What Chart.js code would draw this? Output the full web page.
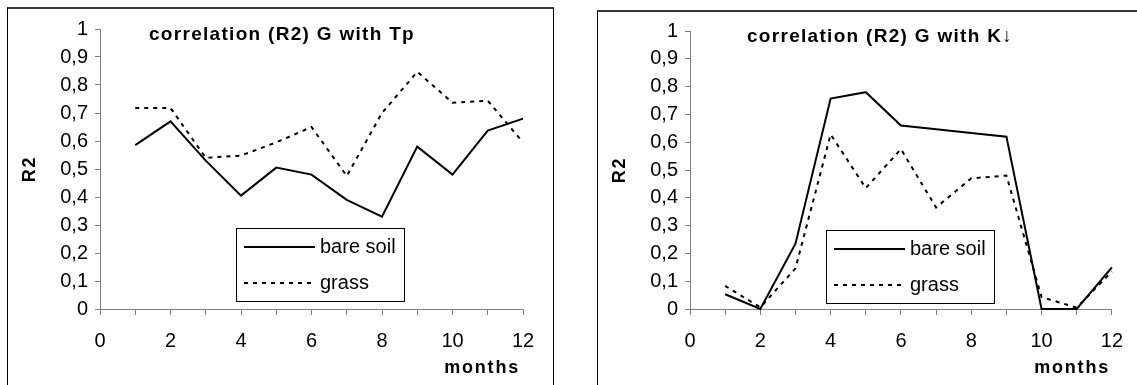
<!DOCTYPE html>
<html>
<head>
<meta charset="utf-8">
<script src="https://cdn.jsdelivr.net/npm/chart.js@4"></script>
<style>
  body { margin: 0; background: #fff; width: 1137px; height: 385px; overflow: hidden; position: relative; }
  .box { position: absolute; border-top: 2px solid #3a3a3a; border-left: 1px solid #000; border-right: 1px solid #000; background: #fff; }
  .box canvas { position: absolute; left: 0; top: 0; }
</style>
</head>
<body>
<div class="box" style="left:7px;top:7px;width:545px;height:400px;">
  <canvas id="chartTp" width="545" height="376"></canvas>
</div>
<div class="box" style="left:597px;top:10px;width:545px;height:400px;">
  <canvas id="chartK" width="539" height="373"></canvas>
</div>
<script>
// R2 per month, G against Tp and against K-down
const months = [1, 2, 3, 4, 5, 6, 7, 8, 9, 10, 11, 12];
const bareSoilTp = [0.585, 0.67, 0.53, 0.405, 0.505, 0.48, 0.39, 0.33, 0.58, 0.48, 0.637, 0.68];
const grassTp = [0.718, 0.718, 0.54, 0.548, 0.595, 0.65, 0.475, 0.70, 0.847, 0.737, 0.744, 0.595];
const bareSoilK = [0.053, 0.0, 0.235, 0.757, 0.78, 0.66, 0.647, 0.633, 0.62, 0.0, 0.0, 0.15];
const grassK = [0.083, 0.006, 0.146, 0.628, 0.435, 0.575, 0.365, 0.47, 0.48, 0.043, 0.005, 0.135];
const seriesNames = ['bare soil', 'grass'];
const yTickLabels = ['0', '0,1', '0,2', '0,3', '0,4', '0,5', '0,6', '0,7', '0,8', '0,9', '1'];
const xTickLabels = ['0', '', '2', '', '4', '', '6', '', '8', '', '10', '', '12'];

const FONT = '"Liberation Sans", Arial, sans-serif';
const AXIS_GREY = '#808080';

// titles, axis names and the boxed legend sit inside the frame, so draw them by hand
const frameText = {
  id: 'frameText',
  afterDraw(chart, args, opts) {
    const ctx = chart.ctx;
    const a = chart.chartArea;
    ctx.save();
    ctx.fillStyle = '#000';
    ctx.textBaseline = 'middle';

    ctx.font = 'bold 19px ' + FONT;
    ctx.letterSpacing = '1.3px';
    ctx.textAlign = 'center';
    ctx.fillText(opts.title, opts.titleX, opts.titleY);

    ctx.font = 'bold 18px ' + FONT;
    ctx.letterSpacing = '1.8px';
    ctx.textAlign = 'right';
    ctx.fillText(opts.xTitle, opts.xTitleX, opts.xTitleY);

    ctx.save();
    ctx.translate(opts.yTitleX, (a.top + a.bottom) / 2);
    ctx.rotate(-Math.PI / 2);
    ctx.textAlign = 'center';
    ctx.fillText(opts.yTitle, 0, 0);
    ctx.restore();

    // legend box
    const lx = a.left + 136, ly = a.top + 199, lw = 168, lh = 73;
    ctx.letterSpacing = '0px';
    ctx.lineWidth = 1;
    ctx.strokeStyle = '#000';
    ctx.strokeRect(lx + 0.5, ly + 0.5, lw, lh);
    ctx.font = '20px ' + FONT;
    ctx.textAlign = 'left';
    chart.data.datasets.forEach((ds, i) => {
      const y = ly + 19 + i * 36;
      ctx.beginPath();
      ctx.setLineDash(ds.borderDash || []);
      ctx.lineWidth = ds.borderWidth;
      ctx.moveTo(lx + 8, y);
      ctx.lineTo(lx + 79, y);
      ctx.stroke();
      ctx.fillText(ds.label, lx + 84, y);
    });
    ctx.restore();
  }
};

function makeChart(id, bare, grass, title, titleX, titleY, area) {
  const canvas = document.getElementById(id);
  return new Chart(canvas, {
    type: 'line',
    data: {
      labels: months,
      datasets: [
        {
          label: seriesNames[0],
          data: months.map((m, i) => ({ x: m, y: bare[i] })),
          borderColor: '#000',
          borderWidth: 2,
          pointRadius: 0,
          tension: 0,
          clip: 4
        },
        {
          label: seriesNames[1],
          data: months.map((m, i) => ({ x: m, y: grass[i] })),
          borderColor: '#000',
          borderWidth: 2,
          borderDash: [4, 5],
          pointRadius: 0,
          tension: 0,
          clip: 4
        }
      ]
    },
    options: {
      responsive: false,
      animation: false,
      events: [],
      layout: {
        padding: { left: 0, top: area.top, right: canvas.width - area.right, bottom: 0 }
      },
      plugins: {
        legend: { display: false },
        tooltip: { enabled: false },
        frameText: {
          title: title,
          titleX: titleX,
          titleY: titleY,
          xTitle: 'months',
          xTitleX: area.right - 3,
          xTitleY: area.bottom + 59,
          yTitle: 'R2',
          yTitleX: 22
        }
      },
      scales: {
        x: {
          type: 'linear',
          min: 0,
          max: 12,
          afterFit: s => { s.height = canvas.height - area.bottom; },
          border: { color: AXIS_GREY, width: 1 },
          grid: { drawOnChartArea: false, color: AXIS_GREY, tickLength: 6 },
          ticks: {
            stepSize: 1,
            autoSkip: false,
            maxRotation: 0,
            padding: 14,
            color: '#000',
            font: { family: FONT, size: 20 },
            callback: (v, i) => xTickLabels[i]
          }
        },
        y: {
          min: 0,
          max: 1,
          afterFit: s => { s.width = area.left; },
          border: { color: AXIS_GREY, width: 1 },
          grid: { drawOnChartArea: false, color: AXIS_GREY, tickLength: 5 },
          ticks: {
            stepSize: 0.1,
            autoSkip: false,
            padding: 7,
            color: '#000',
            font: { family: FONT, size: 20 },
            callback: (v, i) => yTickLabels[i]
          }
        }
      }
    },
    plugins: [frameText]
  });
}

makeChart('chartTp', bareSoilTp, grassTp, 'correlation (R2) G with Tp', 274, 26,
  { left: 92, right: 515, top: 20, bottom: 300 });
makeChart('chartK', bareSoilK, grassK, 'correlation (R2) G with K\u2193', 282, 25,
  { left: 92, right: 515, top: 17, bottom: 297 });
</script>
</body>
</html>
